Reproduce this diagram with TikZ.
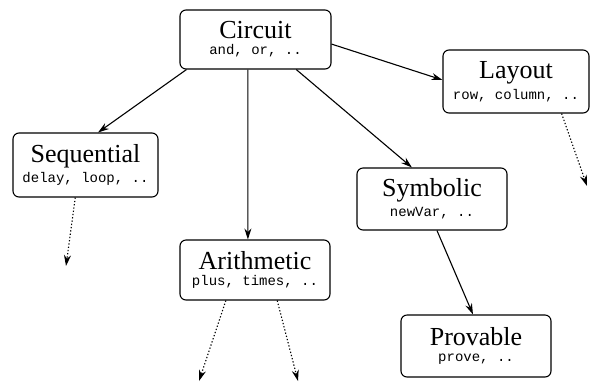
\documentclass[tikz,border=0pt]{standalone}
\usepackage{fontspec}
\setmainfont{Liberation Serif}
\setmonofont{Liberation Mono}
\usetikzlibrary{arrows.meta,calc}
\tikzset{
  modbox/.style={draw, line width=1.1pt, rounded corners=6pt, align=center, inner sep=0pt},
  arr/.style={line width=1.1pt, -{Stealth[length=11pt,width=7pt]}},
  darr/.style={line width=1.1pt, dash pattern=on 1.3pt off 2pt, -{Stealth[length=11pt,width=7pt]}}
}
\newcommand{\boxtxt}[2]{{\fontsize{26}{26}\selectfont #1}\\[4pt]{\fontsize{14}{14}\selectfont\ttfamily #2}}
\begin{document}
\begin{tikzpicture}[x=1pt,y=-1pt]
\useasboundingbox (0,0) rectangle (591,384);
\node[modbox, minimum width=151pt, minimum height=59pt] (c) at (255.5,39.5) {\boxtxt{Circuit}{and, or, ..}};
\node[modbox, minimum width=145pt, minimum height=64pt] (s) at (85.5,165) {\boxtxt{Sequential}{delay, loop, ..}};
\node[modbox, minimum width=146pt, minimum height=63pt] (l) at (516,81.5) {\boxtxt{Layout}{row, column, ..}};
\node[modbox, minimum width=150pt, minimum height=62pt] (y) at (432,199) {\boxtxt{Symbolic}{newVar, ..}};
\node[modbox, minimum width=150pt, minimum height=60pt] (a) at (255,270) {\boxtxt{Arithmetic}{plus, times, ..}};
\node[modbox, minimum width=150pt, minimum height=62pt] (p) at (476,346) {\boxtxt{Provable}{prove, ..}};
\coordinate (se) at (66,266);
\coordinate (le) at (587,186);
\coordinate (a1) at (199,381);
\coordinate (a2) at (298,381);
\draw[arr] ($(c.south west)!0.046!(c.south east)$) -- ($(s.north west)!0.586!(s.north east)$);
\draw[arr] ($(c.south west)!0.45!(c.south east)$) -- ($(a.north west)!0.453!(a.north east)$);
\draw[arr] ($(c.south west)!0.768!(c.south east)$) -- ($(y.north west)!0.367!(y.north east)$);
\draw[arr] ($(c.north east)!0.576!(c.south east)$) -- ($(l.north west)!0.476!(l.south west)$);
\draw[arr] ($(y.south west)!0.533!(y.south east)$) -- ($(p.north west)!0.48!(p.north east)$);
\draw[darr] ($(s.south west)!0.43!(s.south east)$) -- (se);
\draw[darr] ($(l.south west)!0.81!(l.south east)$) -- (le);
\draw[darr] ($(a.south west)!0.307!(a.south east)$) -- (a1);
\draw[darr] ($(a.south west)!0.647!(a.south east)$) -- (a2);
\end{tikzpicture}
\end{document}
